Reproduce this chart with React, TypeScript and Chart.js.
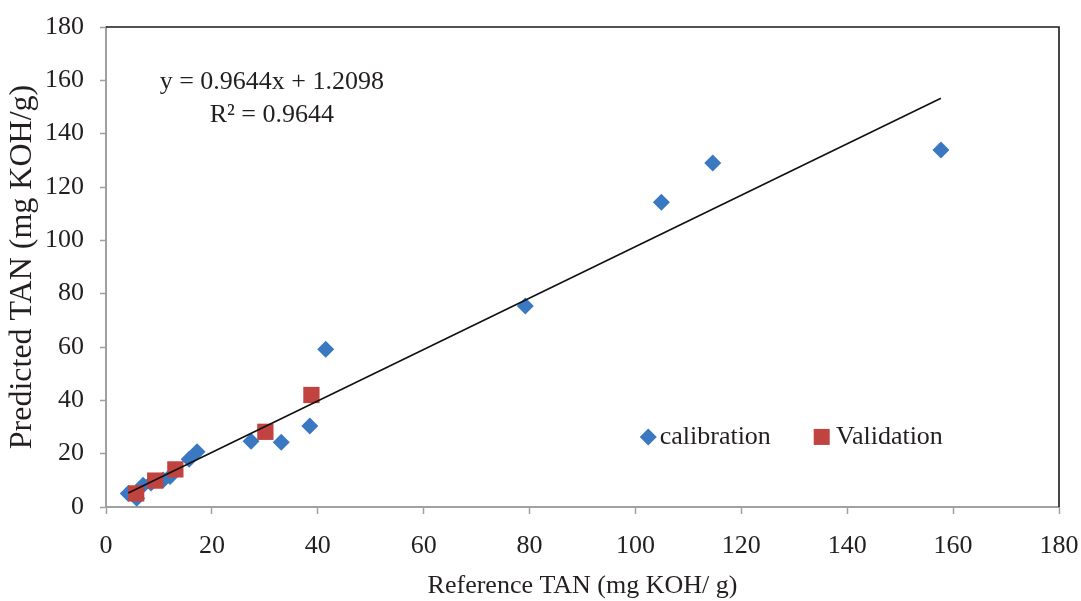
import React, { useEffect, useRef } from "react";
import { Chart, registerables } from "chart.js";

Chart.register(...registerables);

// ---- Data ----
const calibrationX = [4.2, 5.8, 7.0, 8.5, 10.8, 12.1, 15.7, 17.2, 27.4, 33.1, 38.5, 41.5, 79.2, 104.9, 114.6, 157.7];
const calibrationY = [5.1, 3.3, 8.2, 9.0, 10.1, 11.4, 17.9, 20.7, 24.7, 24.3, 30.4, 59.2, 75.4, 114.3, 129.0, 133.9];
const validationX = [5.7, 9.3, 13.1, 30.1, 38.8];
const validationY = [5.1, 9.9, 14.1, 28.2, 42.0];
const trendSlope = 0.9644;
const trendIntercept = 1.2098;
const trendR2 = 0.9644;
const axisTicks = [0, 20, 40, 60, 80, 100, 120, 140, 160, 180];
const seriesNames = ["calibration", "Validation"];
const xTitle = "Reference TAN (mg KOH/ g)";
const yTitle = "Predicted TAN (mg KOH/g)";

const BLUE = "#3A78C1";
const RED = "#C0433F";
const TEXT = "#231f20";
const AXIS = "#a0a0a0";
const FONT = "'Liberation Serif', 'DejaVu Serif', serif";

const overlayPlugin = {
  id: "overlay",
  beforeDatasetsDraw(chart: any) {
    const { ctx, chartArea } = chart;
    ctx.save();
    ctx.strokeStyle = "#1a1a1a";
    ctx.lineWidth = 1.6;
    ctx.beginPath();
    ctx.moveTo(chartArea.left, chartArea.top);
    ctx.lineTo(chartArea.right, chartArea.top);
    ctx.lineTo(chartArea.right, chartArea.bottom);
    ctx.stroke();
    ctx.restore();
  },
  afterDatasetsDraw(chart: any) {
    const { ctx, chartArea } = chart;
    const W = chartArea.right - chartArea.left;
    const H = chartArea.bottom - chartArea.top;
    const px = (f: number) => chartArea.left + f * W;
    const py = (f: number) => chartArea.top + f * H;
    ctx.save();
    ctx.fillStyle = TEXT;
    ctx.font = `26px ${FONT}`;
    ctx.textAlign = "center";
    ctx.textBaseline = "middle";
    ctx.fillText(`y = ${trendSlope}x + ${trendIntercept}`, px(0.174), py(0.115));
    ctx.fillText(`R² = ${trendR2}`, px(0.174), py(0.184));

    // legend
    const ly = py(0.854);
    const d0 = chart.data.datasets[2];
    const d1 = chart.data.datasets[1];
    ctx.fillStyle = d0.backgroundColor;
    const dx = px(0.569);
    ctx.beginPath();
    ctx.moveTo(dx, ly - 8.5);
    ctx.lineTo(dx + 8.5, ly);
    ctx.lineTo(dx, ly + 8.5);
    ctx.lineTo(dx - 8.5, ly);
    ctx.closePath();
    ctx.fill();
    ctx.fillStyle = d1.backgroundColor;
    const sx = px(0.751);
    ctx.fillRect(sx - 8, ly - 8, 16, 16);
    ctx.fillStyle = TEXT;
    ctx.textAlign = "left";
    ctx.fillText(d0.label, px(0.581), ly);
    ctx.fillText(d1.label, px(0.766), ly);
    ctx.restore();
  },
};

export default function App() {
  const ref = useRef<HTMLCanvasElement>(null);
  useEffect(() => {
    if (!ref.current) return;
    const xMin = Math.min(...calibrationX);
    const xMax = Math.max(...calibrationX);
    const chart = new Chart(ref.current, {
      type: "scatter",
      data: {
        datasets: [
          {
            type: "line",
            label: "trend",
            data: [
              { x: xMin, y: trendSlope * xMin + trendIntercept },
              { x: xMax, y: trendSlope * xMax + trendIntercept },
            ],
            borderColor: "#111",
            borderWidth: 1.6,
            pointRadius: 0,
            fill: false,
            order: 0,
          } as any,
          {
            label: seriesNames[1],
            data: validationX.map((x, i) => ({ x, y: validationY[i] })),
            backgroundColor: RED,
            borderColor: RED,
            borderWidth: 0,
            pointStyle: "rect",
            pointRadius: 11.5,
            pointHoverRadius: 11.5,
            order: 1,
          },
          {
            label: seriesNames[0],
            data: calibrationX.map((x, i) => ({ x, y: calibrationY[i] })),
            backgroundColor: BLUE,
            borderColor: BLUE,
            borderWidth: 0,
            pointStyle: "rectRot",
            pointRadius: 8.5,
            pointHoverRadius: 8.5,
            order: 2,
          },
        ],
      },
      options: {
        animation: false,
        responsive: false,
        devicePixelRatio: 1,
        layout: { padding: { top: 27, right: 22, left: 0, bottom: 0 } },
        plugins: {
          legend: { display: false },
          tooltip: { enabled: false },
        },
        scales: {
          x: {
            type: "linear",
            min: 0,
            max: 180,
            afterBuildTicks: (s: any) => {
              s.ticks = axisTicks.map((v) => ({ value: v }));
            },
            afterFit: (s: any) => {
              s.height = 94;
              s.paddingLeft = 0;
              s.paddingRight = 0;
            },
            ticks: {
              color: TEXT,
              font: { family: FONT, size: 26 },
              padding: 17,
              maxRotation: 0,
            },
            grid: {
              drawOnChartArea: false,
              drawTicks: true,
              tickLength: 7,
              tickColor: AXIS,
              tickWidth: 1.5,
            },
            border: { color: AXIS, width: 2 },
            title: {
              display: true,
              text: xTitle,
              color: TEXT,
              font: { family: FONT, size: 26 },
              padding: { top: 0, bottom: -1 },
            },
          },
          y: {
            type: "linear",
            min: 0,
            max: 180,
            afterBuildTicks: (s: any) => {
              s.ticks = axisTicks.map((v) => ({ value: v }));
            },
            afterFit: (s: any) => {
              s.width = 106;
              s.paddingTop = 0;
              s.paddingBottom = 0;
            },
            ticks: {
              color: TEXT,
              font: { family: FONT, size: 26 },
              padding: 16,
            },
            grid: {
              drawOnChartArea: false,
              drawTicks: true,
              tickLength: 6,
              tickColor: AXIS,
              tickWidth: 1.5,
            },
            border: { color: AXIS, width: 2 },
            title: {
              display: true,
              text: yTitle,
              color: TEXT,
              font: { family: FONT, size: 32 },
              padding: { top: 3, bottom: 0 },
            },
          },
        },
      },
      plugins: [overlayPlugin],
    });
    return () => chart.destroy();
  }, []);
  return (
    <div style={{ position: "absolute", left: 0, top: 0, width: 1081, height: 601, background: "#fff" }}>
      <canvas ref={ref} width={1081} height={601} style={{ display: "block" }} />
    </div>
  );
}
